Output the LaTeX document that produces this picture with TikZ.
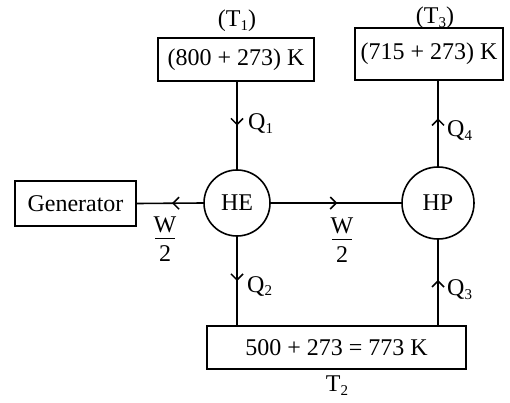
\documentclass[tikz,border=0pt]{standalone}
\usepackage{fontspec}
\setmainfont{Liberation Serif}
\usetikzlibrary{arrows.meta,decorations.markings,calc}
\newcommand\lsub[1]{\raisebox{-0.35ex}{\fontsize{15}{15}\selectfont #1}}
\newcommand\halfW{\vbox{\offinterlineskip\halign{\hfil##\hfil\cr W\cr\noalign{\kern4.3pt}\rule{20pt}{1.5pt}\cr\noalign{\kern6pt}2\cr}}}
\tikzset{
  txt/.style={font=\fontsize{24}{28}\selectfont, inner sep=0pt},
  boxnode/.style={draw, line width=1.6pt, txt, minimum width=#1},
  eng/.style={draw, circle, line width=1.6pt, txt},
  conn/.style={line width=1.6pt},
  midarrow/.style={postaction={decorate}, decoration={markings,
     mark=at position #1 with {\arrow[line width=1.5pt]{Straight Barb[length=6pt,width=12pt]}}}},
}
\begin{document}
\begin{tikzpicture}[x=1pt,y=-1pt]
\useasboundingbox (0,0) rectangle (510,403);
\node[boxnode=156pt, minimum height=43pt] (T1) at (236,59.5) {(800 + 273) K};
\node[boxnode=148pt, minimum height=52pt] (T3) at (429,54) {(715 + 273) K};
\node[boxnode=121pt, minimum height=45pt] (G) at (75.5,203.5) {Generator};
\node[boxnode=259pt, minimum height=43pt] (T2) at (336.5,347.5) {500 + 273 = 773 K};
\node[eng, minimum size=66pt] (HE) at (237,203) {HE};
\node[eng, minimum size=72pt] (HP) at (438,203) {HP};
\node[txt] (t1l) at (237,21) {(T\lsub{1})};
\node[txt] (t3l) at (435,18) {(T\lsub{3})};
\node[txt] (t2l) at (337,386) {T\lsub{2}};
\draw[conn, midarrow=0.5] (T1.south -| HE.north) -- (HE.north);
\draw[conn, midarrow=0.56] (HP.north) -- (HP.north |- T3.south);
\draw[conn, midarrow=0.5] (HE.south) -- (HE.south |- T2.north);
\draw[conn, midarrow=0.53] (HP.south |- T2.north) -- (HP.south);
\draw[conn, midarrow=0.47] (HE.west) -- (G.east);
\draw[conn, midarrow=0.51] (HE.east) -- (HP.west);
\node[txt, anchor=west] (q1) at (248,124) {Q\lsub{1}};
\node[txt, anchor=west] (q4) at (447,131) {Q\lsub{4}};
\node[txt, anchor=west] (q2) at (247,286) {Q\lsub{2}};
\node[txt, anchor=west] (q3) at (447,290) {Q\lsub{3}};
\node[txt, anchor=base] (w1) at (165,261) {\halfW};
\node[txt, anchor=base] (w2) at (342,262) {\halfW};
\end{tikzpicture}
\end{document}
